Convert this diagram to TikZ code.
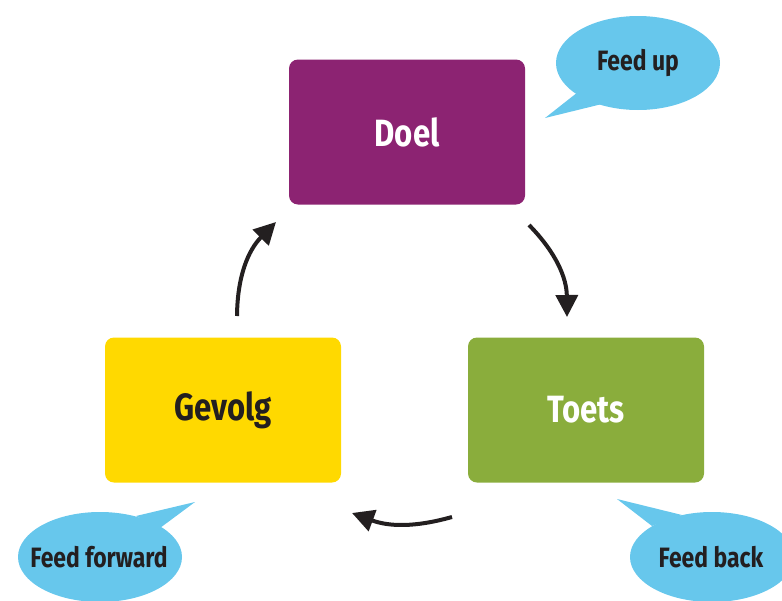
\documentclass[tikz,border=0pt]{standalone}
\usepackage{fontspec}
\setmainfont{Fira Sans}[FakeStretch=0.82,BoldFont={* Bold}]
\usetikzlibrary{arrows.meta}

\definecolor{doelpaars}{HTML}{8C2372}
\definecolor{gevolggeel}{HTML}{FFD900}
\definecolor{toetsgroen}{HTML}{8AAD3C}
\definecolor{wolkblauw}{HTML}{67C7EC}
\definecolor{inkt}{HTML}{231F20}

\tikzset{
  stapbox/.style={rounded corners=9pt, minimum width=236pt, minimum height=145pt,
    inner sep=0pt, font=\fontsize{38}{40}\selectfont\bfseries},
  wolk/.style={fill=wolkblauw},
  wolktekst/.style={inner sep=0pt, text=inkt, font=\fontsize{28}{30}\selectfont\bfseries},
  pijl/.style={draw=inkt, line width=4pt, -{Triangle[length=22pt,width=22pt]}}
}

\begin{document}
\begin{tikzpicture}[x=1pt,y=-1pt]
    \useasboundingbox (0,0) rectangle (782,600);
    \clip (0,0) rectangle (782,600);

    % stappen
    \node[stapbox, fill=doelpaars, text=white] (doel) at (407,132) {Doel};
    \node[stapbox, fill=gevolggeel, text=inkt] (gevolg) at (223,410) {Gevolg};
    \node[stapbox, fill=toetsgroen, text=white] (toets) at (586,410) {Toets};

    % tekstwolken
    \fill[wolk] (578,92) -- (545,118) -- (602,104) -- cycle;
    \fill[wolk] (638,63) ellipse [x radius=82, y radius=47];
    \node[wolktekst] (feedup) at (638,63) {Feed up};
    \fill[wolk] (136,516) -- (195,502) -- (160,528) -- cycle;
    \fill[wolk] (100,557) ellipse [x radius=82, y radius=45];
    \node[wolktekst] (feedforward) at (99,557) {Feed forward};
    \fill[wolk] (682,515) -- (617,499) -- (652,526) -- cycle;
    \fill[wolk] (712,557) ellipse [x radius=82, y radius=45];
    \node[wolktekst] (feedback) at (711,557) {Feed back};

    % pijlen
    \coordinate (a1) at (237,316);
    \coordinate (a2) at (276,222);
    \coordinate (b1) at (529,225);
    \coordinate (b2) at (567,317);
    \coordinate (c1) at (452,517);
    \coordinate (c2) at (352,513);
    \draw[pijl] (a1) to[bend left=22] (a2);
    \draw[pijl] (b1) to[bend left=22] (b2);
    \draw[pijl] (c1) to[bend left=18] (c2);
\end{tikzpicture}
\end{document}
